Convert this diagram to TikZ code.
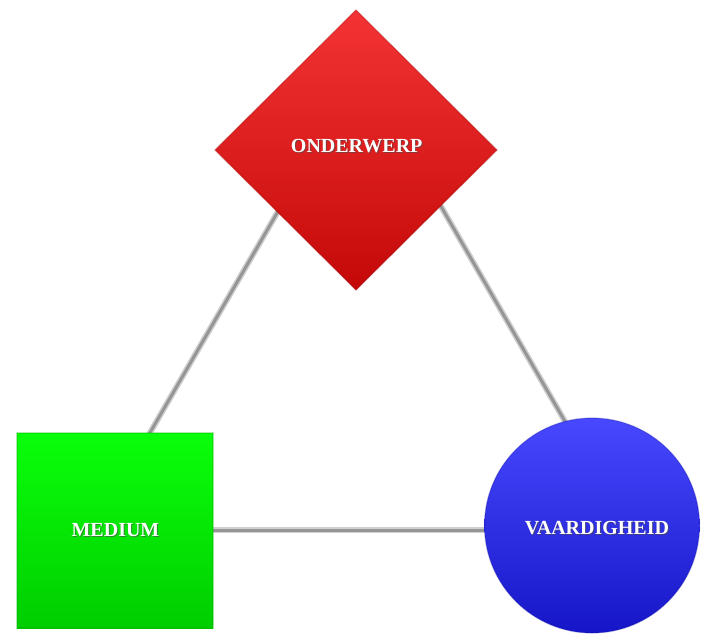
\documentclass[tikz,border=0pt]{standalone}
\usepackage{fontspec}
\setmainfont{Liberation Serif}
\usetikzlibrary{shapes.geometric}
\definecolor{redtop}{RGB}{244,52,52}
\definecolor{redbot}{RGB}{196,8,8}
\definecolor{greentop}{RGB}{10,255,10}
\definecolor{greenbot}{RGB}{0,205,0}
\definecolor{bluetop}{RGB}{72,72,255}
\definecolor{bluebot}{RGB}{22,22,200}
\definecolor{linegray}{RGB}{150,150,150}
\tikzset{
  conn/.style={draw=linegray!45, line width=6pt},
  conncore/.style={draw=linegray, line width=3pt},
  shapebox/.style={inner sep=0pt, outer sep=0pt},
  lbl/.style={text=white, font=\fontsize{20}{24}\selectfont\bfseries, inner sep=0pt},
  lblshadow/.style={text=black!70, opacity=0.6, font=\fontsize{20}{24}\selectfont\bfseries, inner sep=0pt}
}
\begin{document}
\begin{tikzpicture}[x=1pt,y=-1pt]
\useasboundingbox (0,0) rectangle (702,640);
% connector end points (hidden behind shapes)
\coordinate (l1) at (140,450);
\coordinate (l2) at (295,182);
\coordinate (r1) at (420,170);
\coordinate (r2) at (578,444);
\coordinate (h1) at (200,530);
\coordinate (h2) at (500,530);
\draw[conn] (l1) -- (l2);
\draw[conn] (r1) -- (r2);
\draw[conn] (h1) -- (h2);
\draw[conncore] (l1) -- (l2);
\draw[conncore] (r1) -- (r2);
\draw[conncore] (h1) -- (h2);
% shapes
\node[shapebox, diamond, minimum width=282pt, minimum height=280pt,
      top color=redtop, bottom color=redbot, draw=redbot!80!black, draw opacity=0.35, line width=1.2pt]
      (onder) at (356,150) {};
\node[shapebox, rectangle, minimum width=196pt, minimum height=195pt,
      top color=greentop, bottom color=greenbot, draw=greenbot!85!black, draw opacity=0.3, line width=1.2pt]
      (medium) at (115,530.5) {};
\node[shapebox, circle, minimum size=215pt,
      top color=bluetop, bottom color=bluebot, draw=bluebot!80!black, draw opacity=0.3, line width=1.2pt]
      (vaard) at (592,525.5) {};
% labels
\node[lblshadow] (onders) at (357.7,147.2) {ONDERWERP};
\node[lbl] (onderl) at (356.7,146.2) {ONDERWERP};
\node[lblshadow] (meds) at (116.5,531.2) {MEDIUM};
\node[lbl] (medl) at (115.5,530.2) {MEDIUM};
\node[lblshadow] (vaards) at (598,529.2) {VAARDIGHEID};
\node[lbl] (vaardl) at (597,528.2) {VAARDIGHEID};
\end{tikzpicture}
\end{document}
